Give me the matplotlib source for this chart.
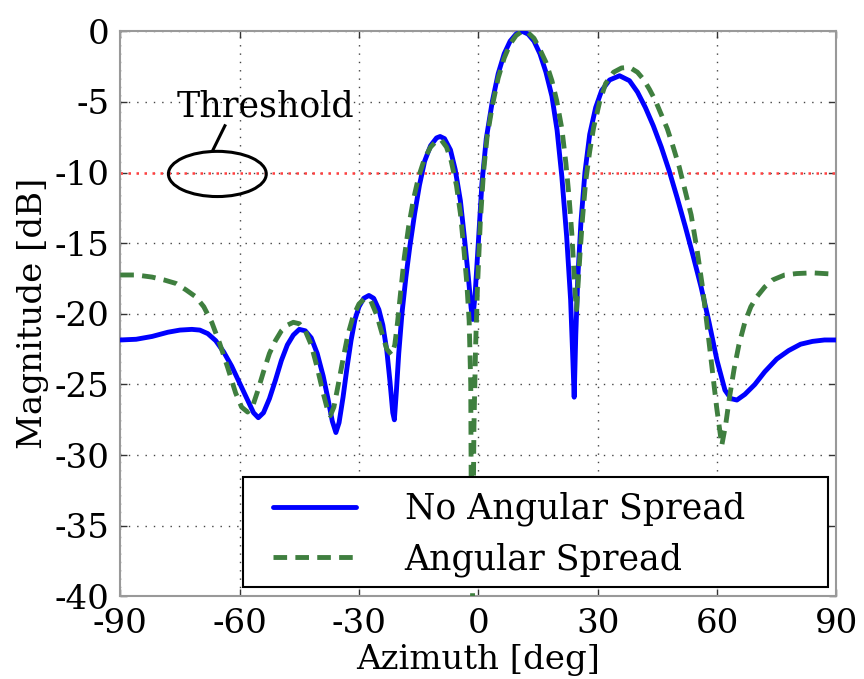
import matplotlib
matplotlib.use("Agg")
import matplotlib.pyplot as plt
from matplotlib.patches import Ellipse, Rectangle

plt.rcParams['font.family'] = ['DejaVu Serif']

# ---- data ----
az_no = [-90, -86, -82, -78, -75, -72, -70, -68, -66, -64, -62, -60, -58, -56.5, -55.3, -54,
         -52.5, -51, -49.5, -48, -46.5, -45, -43.5, -42, -40.5, -39, -37.8, -36.7, -35.8, -35,
         -34, -33, -32, -31, -30, -28.8, -27.5, -26.3, -25, -24, -23, -22.2, -21.5, -21.1,
         -20.6, -20, -19.2, -18.2, -17.2, -16, -14.8, -13.5, -12, -10.5, -9.6, -8.5, -7,
         -5.8, -4.5, -3.5, -2.5, -1.8, -1.4, -0.8, 0, 0.9, 2, 3.5, 5, 6.5, 8, 9.5, 11, 12.5,
         14, 15.5, 17, 18.5, 19.8, 21, 22.2, 23.2, 23.8, 24.1, 24.5, 25, 25.8, 26.8, 28, 29.5,
         31, 33, 35.5, 38, 40, 42, 44, 46, 48, 50, 52, 54, 56, 58, 60, 62, 63.5, 65, 67,
         69.5, 72, 75, 78, 81, 84, 87, 90]
mag_no = [-21.85, -21.8, -21.6, -21.3, -21.15, -21.1, -21.15, -21.4, -21.9, -22.7, -23.7, -24.9,
          -26.1, -27.0, -27.35, -27.0, -26.0, -24.7, -23.3, -22.2, -21.5, -21.1, -21.2, -21.7,
          -22.8, -24.4, -26.0, -27.6, -28.4, -27.7, -25.9, -23.8, -21.9, -20.4, -19.5, -18.9,
          -18.7, -18.9, -19.7, -20.8, -22.6, -24.8, -27.0, -27.5, -25.5, -22.8, -20.0, -17.4,
          -15.2, -12.9, -10.9, -9.2, -8.1, -7.55, -7.45, -7.6, -8.4, -9.8, -12.0, -14.6, -17.4,
          -19.6, -20.4, -18.6, -15.0, -10.8, -7.6, -5.0, -3.0, -1.6, -0.7, -0.2, 0.0, -0.2,
          -0.7, -1.6, -2.9, -4.6, -7.0, -10.3, -14.5, -19.0, -23.5, -25.9, -21.5, -17.5, -13.5,
          -10.0, -7.3, -5.4, -4.2, -3.45, -3.15, -3.5, -4.3, -5.4, -6.7, -8.2, -9.9, -11.8,
          -13.8, -15.9, -18.1, -20.6, -23.3, -25.4, -26.0, -26.1, -25.7, -25.0, -24.1, -23.2,
          -22.6, -22.15, -21.95, -21.85, -21.85]

az_sp = [-90, -86, -82, -79, -76, -73.5, -71, -69, -67, -65, -63, -61, -59.5, -58, -56.8,
         -55.5, -54, -52.5, -51, -49.5, -48, -46.5, -45, -43.5, -42, -40.5, -39, -37.8, -37.2,
         -36.3, -35.2, -34, -32.8, -31.5, -30, -28.5, -27, -25.5, -24.2, -23, -21.8, -21,
         -20.3, -19.5, -18.6, -17.5, -16.3, -15, -13.5, -12, -10.5, -9.3, -8, -6.8, -5.5, -4.5,
         -3.6, -2.9, -2.3, -1.9, -1.6, -1.1, -0.7, -0.2, 0.5, 1.3, 2.2, 3.5, 5, 6.5, 8, 9.5,
         11, 12.5, 14, 15.5, 17, 18.5, 19.7, 21, 22, 22.8, 23.5, 24, 24.4, 24.7, 25.1, 25.6,
         26.2, 27, 28, 29, 30.5, 32, 34, 36, 38, 40, 41.5, 43, 44.5, 46, 47.5, 49, 50.5, 52,
         53.5, 55, 56.3, 57.5, 58.7, 59.9, 61.2, 62.2, 63.2, 64.3, 65.5, 67, 68.5, 70, 72, 74,
         77, 80, 84, 87, 90]
mag_sp = [-17.25, -17.25, -17.4, -17.6, -17.85, -18.3, -18.8, -19.5, -20.6, -22.1, -23.8, -25.6,
          -26.6, -26.95, -26.6, -25.5, -24.1, -22.8, -21.9, -21.2, -20.8, -20.6, -20.7, -21.2,
          -22.2, -23.8, -25.6, -26.9, -27.2, -26.6, -25.0, -23.2, -21.5, -20.2, -19.3, -18.9,
          -19.1, -20.1, -21.4, -22.5, -22.9, -22.2, -20.6, -18.4, -16.0, -13.8, -11.9, -10.3,
          -9.0, -8.2, -7.75, -7.7, -8.2, -9.2, -10.9, -12.9, -15.5, -17.8, -20.5, -25.0, -45.0,
          -28.0, -22.5, -18.0, -13.5, -10.0, -7.5, -5.3, -3.3, -1.9, -0.9, -0.3, 0.0, -0.1,
          -0.5, -1.3, -2.2, -3.5, -4.9, -6.9, -9.3, -11.7, -14.3, -16.8, -18.8, -19.7, -17.8,
          -15.6, -13.2, -10.6, -8.5, -6.8, -5.0, -3.7, -2.9, -2.6, -2.55, -2.9, -3.4, -4.1,
          -4.9, -5.9, -6.9, -8.2, -9.6, -11.3, -13.0, -15.5, -18.0, -20.8, -23.7, -26.6, -29.3,
          -27.8, -25.8, -23.9, -22.2, -20.6, -19.5, -18.8, -18.1, -17.6, -17.25, -17.15, -17.1,
          -17.15, -17.2]

threshold = -10
xticks = [-90, -60, -30, 0, 30, 60, 90]
xticklabels = ['-90', '-60', '-30', '0', '30', '60', '90']
yticks = [0, -5, -10, -15, -20, -25, -30, -35, -40]
yticklabels = ['0', '-5', '-10', '-15', '-20', '-25', '-30', '-35', '-40']
labels = ['No Angular Spread', 'Angular Spread']

# ---- plot ----
fig = plt.figure(figsize=(8.64, 6.79), dpi=100)
ax = fig.add_axes([0.1392, 0.1216, 0.8288, 0.8324])

ax.plot(az_no, mag_no, color='#0000ff', lw=3.5, label=labels[0], zorder=3,
        solid_joinstyle='round', solid_capstyle='round')
ax.plot(az_sp, mag_sp, color='#3f7f3f', lw=3.5, ls=(0, (2.8, 1.7)), label=labels[1], zorder=4,
        dash_joinstyle='round')
ax.axhline(threshold, color='#ff4040', lw=1.8, ls=(0, (1, 2.2)), zorder=2)

ax.set_xlim(-90, 90)
ax.set_ylim(-40, 0)
ax.set_xticks(xticks)
ax.set_xticklabels(xticklabels)
ax.set_yticks(yticks)
ax.set_yticklabels(yticklabels)
ax.tick_params(direction='in', length=5, width=1, labelsize=24.5, top=True, right=True,
               colors='#333333', labelcolor='black')
ax.tick_params(axis='y', pad=8)
ax.tick_params(axis='x', pad=8)
ax.grid(True, color='#444444', lw=1.0, ls=(0, (1, 5)))
for s in ax.spines.values():
    s.set_color('#999999')
    s.set_linewidth(1.5)

ax.set_xlabel('Azimuth [deg]', fontsize=24.5, labelpad=3)
ax.set_ylabel('Magnitude [dB]', fontsize=24.5, labelpad=4)

# threshold annotation
ell = Ellipse((-65.6, -10.1), 24.6, 3.2, fill=False, edgecolor='black', lw=2.2, zorder=5)
ax.add_patch(ell)
ax.plot([-66.8, -63.7], [-8.46, -6.69], color='black', lw=2.2, zorder=5)
ax.text(-53.5, -6.05, 'Threshold', fontsize=25, ha='center', va='baseline')

# legend with a fixed frame
frame = Rectangle((0.171, 0.0166), 0.817, 0.195, transform=ax.transAxes, facecolor='white',
                  edgecolor='black', lw=1.5, zorder=6)
ax.add_patch(frame)
leg = ax.legend(loc='center left', bbox_to_anchor=(0.191, 0.110), borderaxespad=0,
                borderpad=0.45, fontsize=25, handlelength=2.4, handletextpad=1.4,
                labelspacing=0.45, frameon=False)
leg.set_zorder(7)

fig.savefig('out.png', dpi=100)
